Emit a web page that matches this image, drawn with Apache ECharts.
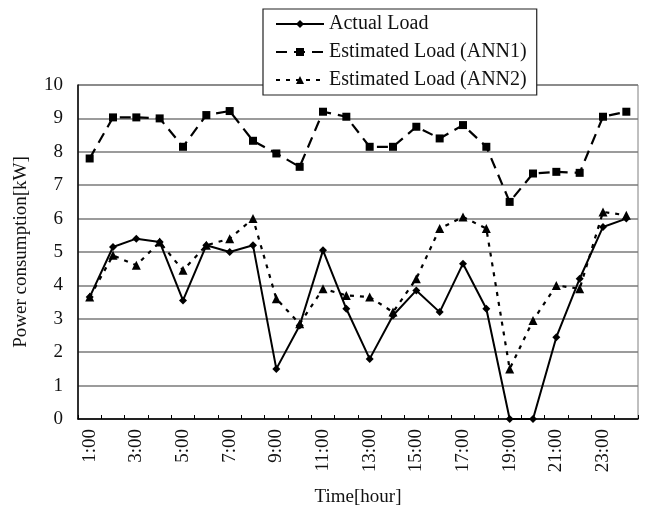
<!DOCTYPE html>
<html><head><meta charset="utf-8">
<script src="https://cdn.jsdelivr.net/npm/echarts@6/dist/echarts.min.js"></script>
<style>html,body{margin:0;padding:0;background:#fff}#c{width:645px;height:511px}</style>
</head><body><div id="c"></div>
<script>
const hours = ["1:00","2:00","3:00","4:00","5:00","6:00","7:00","8:00","9:00","10:00","11:00","12:00","13:00","14:00","15:00","16:00","17:00","18:00","19:00","20:00","21:00","22:00","23:00","24:00"];
const actualLoad = [3.65,5.15,5.4,5.3,3.55,5.2,5.0,5.2,1.5,2.8,5.05,3.3,1.8,3.1,3.85,3.2,4.65,3.3,0,0,2.45,4.2,5.75,6.0];
const ann1 = [7.8,9.03,9.03,9.0,8.15,9.1,9.22,8.33,7.95,7.55,9.2,9.05,8.15,8.15,8.75,8.4,8.8,8.15,6.5,7.35,7.4,7.37,9.05,9.2];
const ann2 = [3.65,4.9,4.6,5.3,4.45,5.2,5.4,6.0,3.6,2.85,3.9,3.7,3.65,3.2,4.2,5.7,6.05,5.7,1.5,2.95,4.0,3.9,6.2,6.1];
const yTicks = {min:0,max:10,interval:1};
const FONT = "Liberation Serif";
const chart = echarts.init(document.getElementById('c'));
chart.setOption({
  animation:false,
  backgroundColor:'#fff',
  textStyle:{fontFamily:FONT,color:'#000'},
  legend:{
    orient:'vertical', left:263, top:9,
    backgroundColor:'#fff', borderColor:'#222', borderWidth:1.2,
    padding:[5,10,5,12], itemGap:8, itemWidth:48, itemHeight:10,
    textStyle:{fontFamily:FONT,fontSize:20,color:'#111'},
    z:10,
    data:['Actual Load','Estimated Load (ANN1)','Estimated Load (ANN2)']
  },
  grid:{left:78,right:7,top:85,bottom:92,outerBoundsMode:'none',containLabel:false,show:true,borderColor:'#808080',borderWidth:1,backgroundColor:'transparent'},
  xAxis:{
    type:'category', data:hours, boundaryGap:true,
    name:'Time[hour]', nameLocation:'middle', nameGap:69,
    nameTextStyle:{fontFamily:FONT,fontSize:19,color:'#111'},
    axisLine:{lineStyle:{color:'#000',width:1.5}},
    axisTick:{show:true,inside:true,length:4,interval:0,lineStyle:{color:'#000'}},
    axisLabel:{rotate:90,interval:1,fontFamily:FONT,fontSize:19,color:'#111',margin:10},
    splitLine:{show:false}
  },
  yAxis:{
    type:'value', min:yTicks.min, max:yTicks.max, interval:yTicks.interval,
    name:'Power consumption[kW]', nameLocation:'middle', nameGap:47,
    nameTextStyle:{fontFamily:FONT,fontSize:19,color:'#111'},
    axisLine:{show:true,lineStyle:{color:'#000',width:1.5}},
    axisTick:{show:false},
    axisLabel:{fontFamily:FONT,fontSize:19,color:'#111',margin:15},
    splitLine:{show:true,lineStyle:{color:'#7a7a7a',width:1.5}}
  },
  series:[
    {name:'Actual Load',type:'line',data:actualLoad,symbol:'diamond',symbolSize:8,
     lineStyle:{color:'#000',width:2,type:'solid'},itemStyle:{color:'#000'},z:3},
    {name:'Estimated Load (ANN1)',type:'line',data:ann1,symbol:'rect',symbolSize:8,
     lineStyle:{color:'#000',width:2.2,type:[11,7]},itemStyle:{color:'#000'},z:3},
    {name:'Estimated Load (ANN2)',type:'line',data:ann2,symbol:'triangle',symbolSize:9,
     lineStyle:{color:'#000',width:2.2,type:[4,6]},itemStyle:{color:'#000'},z:3}
  ]
});
</script></body></html>
